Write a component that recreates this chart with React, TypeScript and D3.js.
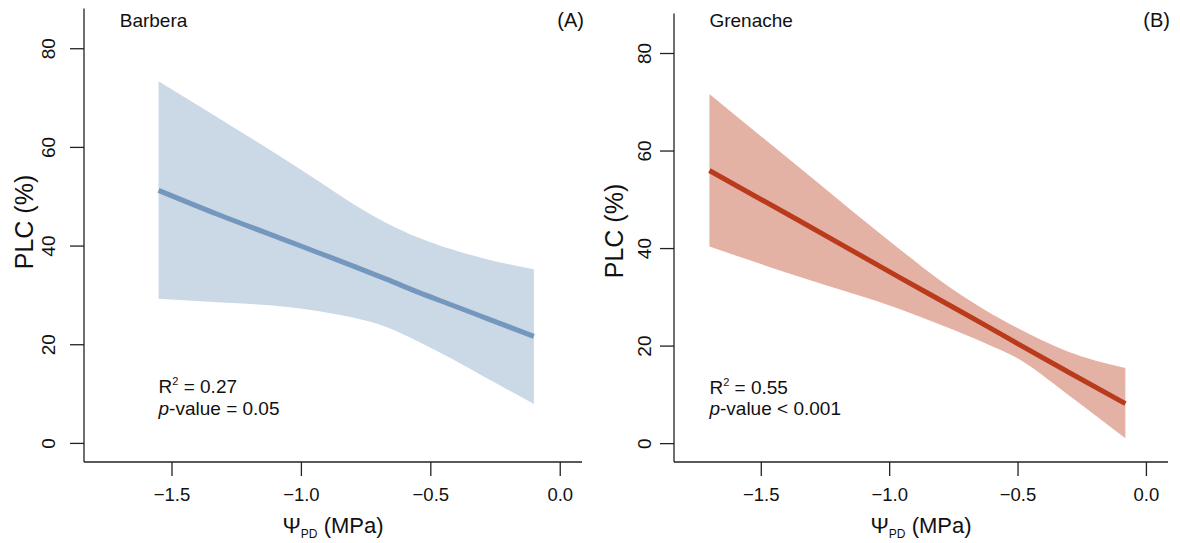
import React, { useEffect, useRef } from 'react';
import * as d3 from 'd3';

// Barbera fit and 95% band
const barberaX = [-1.55, -1.32, -1.06, -0.93, -0.8, -0.67, -0.545, -0.415, -0.285, -0.1];
const barberaFit = [51.2, 46.3, 41.1, 38.5, 35.9, 33.2, 30.5, 27.9, 25.3, 21.6];
const barberaUpper = [73.3, 65.9, 57.4, 53.0, 48.5, 44.6, 41.6, 39.2, 37.3, 35.2];
const barberaLower = [29.2, 28.5, 27.6, 26.7, 25.4, 23.5, 20.5, 17.0, 13.2, 7.9];

// Grenache fit and 95% band
const grenacheX = [-1.7, -1.35, -0.96, -0.8, -0.63, -0.5, -0.31, -0.08];
const grenacheFit = [55.9, 45.6, 34.0, 29.3, 24.3, 20.4, 14.8, 8.1];
const grenacheUpper = [71.6, 56.5, 39.8, 33.3, 27.4, 23.6, 18.9, 15.4];
const grenacheLower = [40.3, 34.1, 27.5, 24.3, 20.6, 17.4, 10.2, 1.0];

const xTicks = [-1.5, -1.0, -0.5, 0.0];
const yTicks = [0, 20, 40, 60, 80];
const xDomain = [-1.838, 0.086];
const yDomain = [-3.87, 84];

const FONT = '"Liberation Sans", Arial, Helvetica, sans-serif';

type PanelProps = {
  name: string;
  letter: string;
  r2: string;
  pText: string;
  xs: number[];
  fit: number[];
  upper: number[];
  lower: number[];
  band: string;
  stroke: string;
  left: number;
  right: number;
  top: number;
  bottom: number;
  yLabelGap: number;
  ylabY: number;
};

const Panel = (p: PanelProps) => {
  const xAxisRef = useRef<SVGGElement>(null);
  const yAxisRef = useRef<SVGGElement>(null);

  const x = d3.scaleLinear().domain(xDomain).range([p.left, p.right]);
  const y = d3.scaleLinear().domain(yDomain).range([p.bottom, p.top]);

  const pts = p.xs.map((v, i) => ({ x: v, fit: p.fit[i], up: p.upper[i], lo: p.lower[i] }));

  const area = d3.area<any>()
    .x(d => x(d.x))
    .y0(d => y(d.lo))
    .y1(d => y(d.up))
    .curve(d3.curveMonotoneX);

  const line = d3.line<any>()
    .x(d => x(d.x))
    .y(d => y(d.fit))
    .curve(d3.curveMonotoneX);

  useEffect(() => {
    const gx = d3.select(xAxisRef.current);
    gx.selectAll('*').remove();
    gx.call(
      d3.axisBottom(x)
        .tickValues(xTicks)
        .tickSize(14)
        .tickSizeOuter(0)
        .tickFormat(d => d3.format('.1f')(d as number).replace('-', '\u2212'))
    );
    gx.select('.domain').remove();
    gx.selectAll('line').attr('stroke', '#222').attr('stroke-width', 1.3);
    gx.selectAll('text')
      .attr('y', 39)
      .attr('dy', null)
      .attr('fill', '#111')
      .style('font-family', FONT)
      .style('font-size', '18.5px');

    const gy = d3.select(yAxisRef.current);
    gy.selectAll('*').remove();
    gy.call(d3.axisLeft(y).tickValues(yTicks).tickSize(14).tickSizeOuter(0));
    gy.select('.domain').remove();
    gy.selectAll('line').attr('stroke', '#222').attr('stroke-width', 1.3);
    gy.selectAll('text')
      .attr('x', null)
      .attr('dy', null)
      .attr('transform', `translate(${-p.yLabelGap},0) rotate(-90)`)
      .attr('text-anchor', 'middle')
      .attr('fill', '#111')
      .style('font-family', FONT)
      .style('font-size', '19px');
  }, []);

  const cx = (p.left + p.right) / 2;

  return (
    <g>
      <path d={area(pts) || ''} fill={p.band} />
      <path d={line(pts) || ''} fill="none" stroke={p.stroke} strokeWidth={5} />

      {/* L-shaped box */}
      <line x1={p.left} x2={p.left} y1={p.top - 20} y2={p.bottom} stroke="#222" strokeWidth={1.3} />
      <line x1={p.left} x2={p.right} y1={p.bottom} y2={p.bottom} stroke="#222" strokeWidth={1.3} />
      <g ref={xAxisRef} transform={`translate(0,${p.bottom})`} />
      <g ref={yAxisRef} transform={`translate(${p.left},0)`} />

      <text x={x(-1.7)} y={27} fontSize={19} fontFamily={FONT} fill="#111">{p.name}</text>
      <text x={p.right + 2} y={27} fontSize={20} fontFamily={FONT} fill="#111" textAnchor="end">{p.letter}</text>

      <text x={x(p.xs[0])} y={y(10.1)} fontSize={19} fontFamily={FONT} fill="#111">
        R<tspan fontSize={11} dy={-8}>2</tspan><tspan dy={8}>{` = ${p.r2}`}</tspan>
      </text>
      <text x={x(p.xs[0])} y={y(5.7)} fontSize={19} fontFamily={FONT} fill="#111">
        <tspan fontStyle="italic">p</tspan>{`-value ${p.pText}`}
      </text>

      <text
        transform={`translate(${p.left - 51},${p.ylabY}) rotate(-90)`}
        textAnchor="middle"
        fontSize={25}
        fontFamily={FONT}
        fill="#111"
      >
        PLC (%)
      </text>

      <text x={cx} y={533} textAnchor="middle" fontSize={22} fontFamily={FONT} fill="#111">
        Ψ<tspan fontSize={12} dy={5}>PD</tspan><tspan dy={-5}> (MPa)</tspan>
      </text>
    </g>
  );
};

const App = () => {
  return (
    <svg
      width={1180}
      height={543}
      style={{ position: 'absolute', left: 0, top: 0, background: '#fff' }}
    >
      <Panel
        name="Barbera"
        letter="(A)"
        r2="0.27"
        pText="= 0.05"
        xs={barberaX}
        fit={barberaFit}
        upper={barberaUpper}
        lower={barberaLower}
        band="#cbd8e6"
        stroke="#7397bd"
        left={84}
        right={582}
        top={28.5}
        bottom={462}
        yLabelGap={29}
        ylabY={222}
      />
      <Panel
        name="Grenache"
        letter="(B)"
        r2="0.55"
        pText="< 0.001"
        xs={grenacheX}
        fit={grenacheFit}
        upper={grenacheUpper}
        lower={grenacheLower}
        band="#e4b2a5"
        stroke="#b93b1c"
        left={674}
        right={1168}
        top={33.5}
        bottom={462}
        yLabelGap={23}
        ylabY={231}
      />
    </svg>
  );
};

export default App;
